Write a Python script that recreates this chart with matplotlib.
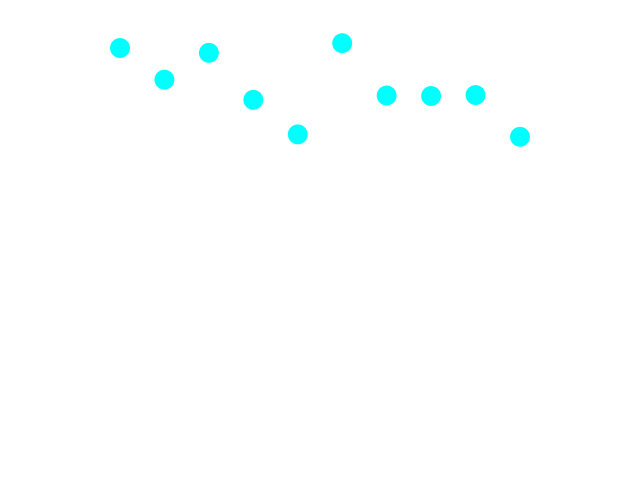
import matplotlib
matplotlib.use("Agg")
import matplotlib.pyplot as plt

# point index and value
idx = [0, 1, 2, 3, 4, 5, 6, 7, 8, 9]
vals = [9.0, 8.34, 8.9, 7.92, 7.2, 9.1, 8.01, 8.0, 8.02, 7.15]

fig = plt.figure(figsize=(6.4, 4.8), dpi=100)
ax = fig.add_axes([0, 0, 1, 1])
ax.scatter(idx, vals, s=205, color="#00ffff", edgecolors="none")

# limits chosen so the points land where they sit in the reference
step = 400 / 9
ax.set_xlim(-120 / step, (640 - 120) / step)
ax.set_ylim(0, 10)
ax.axis("off")

fig.savefig("out.png", dpi=100, facecolor="white")
